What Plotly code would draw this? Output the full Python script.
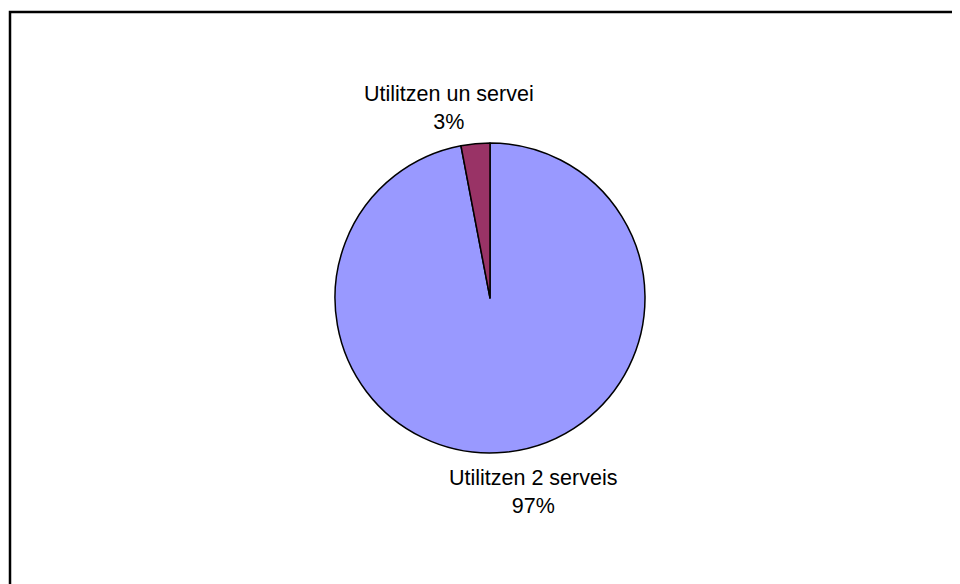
import plotly.graph_objects as go

labels = ["Utilitzen 2 serveis", "Utilitzen un servei"]
values = [97, 3]
colors = ["#9999FF", "#993366"]

W, H = 960, 584
OFF = 8  # page body margin shifts the figure by 8px


def px(x):
    return (x - OFF) / W


def py(y):
    return (H - (y - OFF)) / H


fig = go.Figure()
fig.add_trace(go.Pie(
    labels=labels,
    values=values,
    sort=False,
    direction="clockwise",
    rotation=0,
    marker=dict(colors=colors, line=dict(color="black", width=1.5)),
    textinfo="none",
    hoverinfo="label+percent",
    showlegend=False,
    domain=dict(x=[px(335), px(645)], y=[py(453), py(143)]),
))

# labels outside the slices
total = sum(values)
label_pos = [(532.5, 492), (449, 108)]
for lab, val, (lx, ly) in zip(labels, values, label_pos):
    fig.add_annotation(
        text=f"{lab}<br>{round(100 * val / total)}%",
        x=px(lx), y=py(ly), xref="paper", yref="paper",
        showarrow=False, xanchor="center", yanchor="middle",
        font=dict(family="Liberation Sans, Arial", size=21.5, color="black"),
    )

# chart frame
fig.add_shape(type="rect", xref="paper", yref="paper",
              x0=px(10), x1=1.05, y0=-0.05, y1=py(12),
              line=dict(color="black", width=2.5))

fig.update_layout(
    width=W, height=H,
    margin=dict(l=0, r=0, t=0, b=0),
    paper_bgcolor="white",
    plot_bgcolor="white",
)

fig.write_html("out.html")
